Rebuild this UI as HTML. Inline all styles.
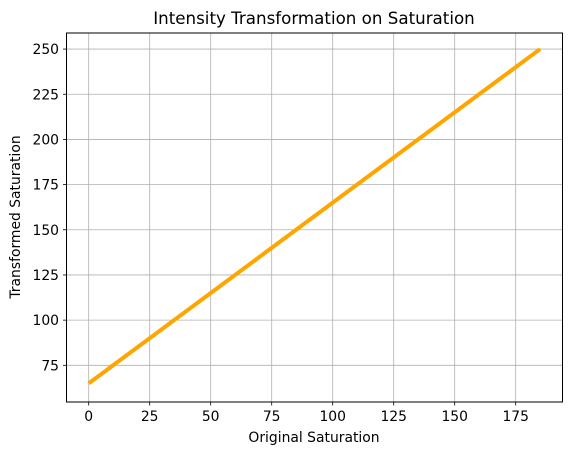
<!DOCTYPE html>
<html><head><meta charset="utf-8"><style>
body{margin:0;background:#fff;font-family:"Liberation Sans","DejaVu Sans",sans-serif;}
svg text{font-family:"DejaVu Sans","Liberation Sans",sans-serif;}
</style></head><body>
<svg id="chart" width="571" height="455">
<rect width="571" height="455" fill="#fff"/>
<text x="314" y="24" font-size="16.7" text-anchor="middle">Intensity Transformation on Saturation</text>
<g id="grid"></g><g id="ticks"></g><g id="series"></g>
<rect x="66.5" y="33" width="496" height="369" fill="none" stroke="#000" stroke-width="1"/>
<text x="314" y="442" font-size="13.9" text-anchor="middle">Original Saturation</text>
<text transform="translate(20,217) rotate(-90)" font-size="13.9" text-anchor="middle">Transformed Saturation</text>
</svg>
<script>
const xTicks=[0,25,50,75,100,125,150,175];
const yTicks=[75,100,125,150,175,200,225,250];
const xValues=[0,185];
const yValues=[65,250];
const X0=88.7,XS=2.44,Y0=365.3,YS=1.807;
function sx(v){return X0+v*XS;}
function sy(v){return Y0-(v-75)*YS;}
const NS="http://www.w3.org/2000/svg";
const grid=document.getElementById('grid'),ticks=document.getElementById('ticks'),series=document.getElementById('series');
function mk(tag,attrs,parent){const e=document.createElementNS(NS,tag);for(const k in attrs)e.setAttribute(k,attrs[k]);parent.appendChild(e);return e;}
xTicks.forEach(t=>{
 const x=sx(t);
 const g=mk('line',{x1:x,x2:x,y1:33,y2:402,stroke:'#b0b0b0','stroke-width':0.8},grid);
 
 
 mk('line',{x1:x,x2:x,y1:402,y2:405.5,stroke:'#000','stroke-width':0.8},ticks);
 const tx=mk('text',{x:x,y:421,'font-size':13.9,'text-anchor':'middle'},ticks);tx.textContent=t;
 
 
});
yTicks.forEach(t=>{
 const y=sy(t);
 const g=mk('line',{x1:66.5,x2:562.5,y1:y,y2:y,stroke:'#b0b0b0','stroke-width':0.8},grid);
 
 
 mk('line',{x1:63,x2:66.5,y1:y,y2:y,stroke:'#000','stroke-width':0.8},ticks);
 const tx=mk('text',{x:59,y:y+5,'font-size':13.9,'text-anchor':'end'},ticks);tx.textContent=t;
 
 
});
const pts=xValues.map((v,i)=>sx(v)+','+sy(yValues[i])).join(' ');
const l=mk('polyline',{points:pts,fill:'none',stroke:'#ffa500','stroke-width':4},series);


</script>
</body></html>
